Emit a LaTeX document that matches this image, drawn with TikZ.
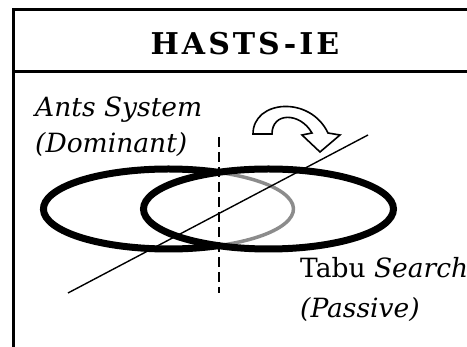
\documentclass[tikz,border=0pt]{standalone}
\usepackage{fontspec}
\newfontfamily\labfont{DejaVu Serif}
\usetikzlibrary{positioning,calc}

\begin{document}
\begin{tikzpicture}[
  x=1pt, y=-1pt,
  frame/.style={line width=3pt, line join=miter},
  oval/.style={line width=7pt},
  hidden/.style={line width=3.5pt, black!45},
  axis/.style={line width=2pt, dash pattern=on 10pt off 5pt},
  thin/.style={line width=1.4pt},
  turn/.style={line width=1.6pt, fill=white, line join=miter},
  lab/.style={font=\labfont\fontsize{26.5}{28}\selectfont, anchor=base west, inner sep=0pt},
  head/.style={font=\labfont\fontsize{30}{32}\selectfont\bfseries\addfontfeature{LetterSpace=10}, anchor=base, inner sep=0pt},
]
\useasboundingbox (0,0) rectangle (467,347);

% frame and header
\draw[frame] (467,10) -- (13,10) -- (13,347);
\draw[frame] (13,72) -- (467,72);
\node[head] (title) at (245,55) {HASTS-IE};

% the two ovals
\coordinate (antsc) at (168.5,209);
\coordinate (tabuc) at (268.5,209);
\draw[oval] ($(antsc)+(50,36.65)$) arc[start angle=66.4, end angle=293.6, x radius=125, y radius=40];
\draw[hidden] ($(antsc)+(50,36.65)$) arc[start angle=66.4, end angle=-66.4, x radius=125, y radius=40];
\draw[oval] (tabuc) ellipse[x radius=125, y radius=40];

% axis and cutting line
\coordinate (axtop) at (218.5,137);
\coordinate (axbot) at (218.5,293);
\draw[axis] (axtop) -- (axbot);
\coordinate (cutA) at (68,293);
\coordinate (cutB) at (368,135);
\draw[thin] (cutA) -- (cutB);

% turning arrow
\draw[turn] (253,134) .. controls (253,100) and (310,95) .. (328,133)
  -- (340,135) -- (320,152) -- (302,135) -- (312,133)
  .. controls (300,112) and (272,112) .. (272,134) -- cycle;

% labels
\node[lab] (ants) at (35,117) {\itshape Ants System};
\node[lab] (dom) at (35,153) {\itshape (Dominant)};
\node[lab] (tabu) at (300,278) {Tabu \textit{Search}};
\node[lab] (pas) at (300,318) {\itshape (Passive)};
\end{tikzpicture}
\end{document}
